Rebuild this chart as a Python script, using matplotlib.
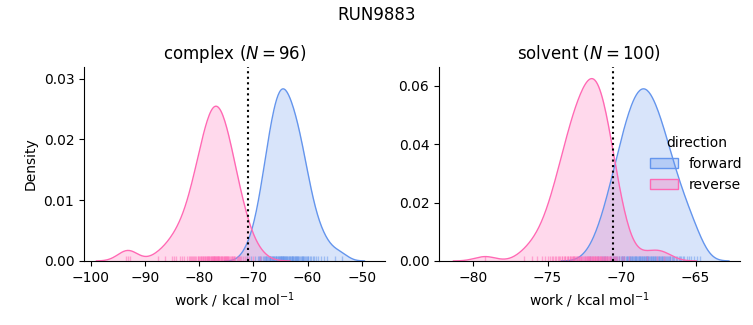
import numpy as np
import matplotlib
matplotlib.use('Agg')
import matplotlib.pyplot as plt
from matplotlib.colors import to_rgba
from matplotlib.patches import Patch
import seaborn as sns

complex_forward = [
    -71.2, -70.4, -69.7, -69.2, -68.9, -68.7, -68.5, -68.2, -68.0, -67.9,
    -67.75, -67.6, -67.4, -67.3, -67.15, -67.0, -66.9, -66.85,
    -66.75, -66.6, -66.5, -66.4, -66.3, -66.25, -66.1, -66.0, -65.9, -65.85,
    -65.75, -65.65, -65.5, -65.45, -65.3, -65.2, -65.1, -65.0, -64.95, -64.9, -64.85,
    -64.75, -64.7, -64.6, -64.5, -64.45, -64.35, -64.3, -64.2, -64.1, -64.0, -63.95, -63.85,
    -63.75, -63.6, -63.5, -63.4, -63.3, -63.2, -63.05, -62.95, -62.9, -62.85,
    -62.75, -62.6, -62.5, -62.4, -62.3, -62.2, -62.1, -62.0, -61.9, -61.85,
    -61.7, -61.55, -61.4, -61.3, -61.1, -61.0, -60.9, -60.85,
    -60.7, -60.5, -60.3, -60.1, -60.0, -59.85,
    -59.6, -59.3, -59.0, -58.9, -58.5, -58.0, -57.5, -57.0, -56.4, -55.0, -53.6,
]
complex_reverse = [
    -93.5, -93.1, -92.8, -87.6, -86.3, -85.0, -84.6, -84.2, -83.6, -83.2,
    -82.8, -82.3, -81.9, -81.6, -81.5,
    -81.3, -81.1, -80.9, -80.7, -80.5,
    -80.3, -80.2, -80.0, -79.9, -79.7, -79.6, -79.5,
    -79.3, -79.2, -79.1, -79.0, -78.9, -78.8, -78.6, -78.5, -78.45,
    -78.3, -78.2, -78.1, -78.0, -77.9, -77.8, -77.7, -77.6, -77.5, -77.45,
    -77.35, -77.3, -77.2, -77.1, -77.0, -76.95, -76.9, -76.8, -76.7, -76.6, -76.55, -76.5,
    -76.35, -76.3, -76.1, -76.0, -75.9, -75.8, -75.7, -75.6, -75.5, -75.45,
    -75.3, -75.2, -75.1, -75.0, -74.9, -74.8, -74.7, -74.6, -74.5,
    -74.3, -74.2, -74.0, -73.9, -73.7, -73.6, -73.5,
    -73.3, -73.1, -72.9, -72.7, -72.5,
    -72.2, -71.9, -71.6, -71.2, -70.8, -70.1, -68.7,
]
solvent_forward = [
    -72.1, -71.6, -71.35, -71.2, -71.1, -70.95, -70.8,
    -70.7, -70.6, -70.5, -70.45, -70.35, -70.3,
    -70.2, -70.15, -70.05, -70.0, -69.95, -69.9, -69.85, -69.8,
    -69.7, -69.65, -69.6, -69.55, -69.5, -69.45, -69.4, -69.35, -69.3, -69.28,
    -69.22, -69.18, -69.12, -69.08, -69.02, -69.0, -68.95, -68.9, -68.85, -68.8, -68.77,
    -68.72, -68.68, -68.64, -68.6, -68.55, -68.5, -68.46, -68.42, -68.38, -68.33, -68.3, -68.27,
    -68.22, -68.18, -68.12, -68.08, -68.03, -68.0, -67.95, -67.9, -67.85, -67.8, -67.76,
    -67.72, -67.66, -67.6, -67.55, -67.5, -67.45, -67.4, -67.35, -67.3, -67.26,
    -67.2, -67.12, -67.05, -67.0, -66.95, -66.88, -66.82, -66.76,
    -66.7, -66.6, -66.5, -66.45, -66.35, -66.28,
    -66.15, -66.05, -65.95, -65.85, -65.75,
    -65.6, -65.45, -65.3, -65.1, -64.9, -64.7,
]
solvent_reverse = [
    -79.2, -76.6, -76.05, -75.7, -75.4,
    -75.2, -75.0, -74.8,
    -74.7, -74.6, -74.5, -74.4, -74.3,
    -74.2, -74.15, -74.05, -74.0, -73.9, -73.85, -73.8,
    -73.7, -73.65, -73.6, -73.5, -73.45, -73.4, -73.35, -73.3, -73.27,
    -73.22, -73.18, -73.12, -73.08, -73.03, -73.0, -72.96, -72.9, -72.85, -72.8, -72.77,
    -72.72, -72.66, -72.6, -72.55, -72.5, -72.45, -72.4, -72.35, -72.3, -72.27, -72.25,
    -72.22, -72.18, -72.14, -72.1, -72.06, -72.02, -71.98, -71.94, -71.9, -71.86, -71.82, -71.78, -71.76,
    -71.72, -71.68, -71.64, -71.6, -71.56, -71.52, -71.48, -71.44, -71.4, -71.36, -71.32, -71.28, -71.26,
    -71.2, -71.15, -71.1, -71.05, -71.0, -70.95, -70.9, -70.85, -70.8, -70.76,
    -70.7, -70.6, -70.5, -70.42, -70.35, -70.28,
    -70.2, -70.0, -69.85, -69.5,
    -68.3, -67.6, -67.1,
]

panels = ['complex', 'solvent']
n_works = [96, 100]
delta_g = [-71.0, -70.57]          # dotted line
directions = ['forward', 'reverse']
colors = {'forward': '#6495ED', 'reverse': '#FF69B4'}
kde_share = [0.255, 0.27]          # share of the common normalisation per group

works = {
    'complex': {'forward': complex_forward, 'reverse': complex_reverse},
    'solvent': {'forward': solvent_forward, 'reverse': solvent_reverse},
}

xlims = [(-101.24, -45.71), (-82.33, -62.0)]
ylims = [(0, 0.0319), (0, 0.0664)]


def kde_curve(values, share, gridsize=200, cut=3):
    v = np.asarray(values)
    bw = v.std(ddof=1) * len(v) ** (-0.2)
    grid = np.linspace(v.min() - cut * bw, v.max() + cut * bw, gridsize)
    z = (grid[:, None] - v[None, :]) / bw
    dens = np.exp(-0.5 * z ** 2).sum(axis=1) / (len(v) * bw * np.sqrt(2 * np.pi))
    return grid, dens * share


fig = plt.figure(figsize=(7.53, 3.25), dpi=100)
axes = [fig.add_axes([0.1116, 0.197, 0.3997, 0.597]),
        fig.add_axes([0.583, 0.197, 0.3997, 0.597])]

for i, (ax, phase) in enumerate(zip(axes, panels)):
    for d in directions:
        x, y = kde_curve(works[phase][d], kde_share[i])
        ax.fill_between(x, y, color=colors[d], alpha=0.25, linewidth=0)
        ax.plot(x, y, color=colors[d], lw=1)
        sns.rugplot(x=works[phase][d], ax=ax, color=colors[d], alpha=0.5, height=0.025, lw=1)
    ax.axvline(delta_g[i], color='black', ls=':', lw=1.5)
    ax.set_xlim(*xlims[i])
    ax.set_ylim(*ylims[i])
    ax.set_title(f'{phase} ($N = {n_works[i]}$)', fontsize=12)
    ax.set_xlabel('work / kcal mol$^{-1}$')
    ax.spines['top'].set_visible(False)
    ax.spines['right'].set_visible(False)

axes[0].set_ylabel('Density')
axes[0].set_yticks([0, 0.01, 0.02, 0.03])
axes[1].set_yticks([0, 0.02, 0.04, 0.06])

handles = [Patch(facecolor=to_rgba(colors[d], 0.3), edgecolor=colors[d], lw=1, label=d)
           for d in directions]
axes[1].legend(handles=handles, title='direction', frameon=False,
               loc='center left', bbox_to_anchor=(0.66, 0.50))

fig.suptitle('RUN9883', fontsize=12)
fig.savefig('out.png', dpi=100)
